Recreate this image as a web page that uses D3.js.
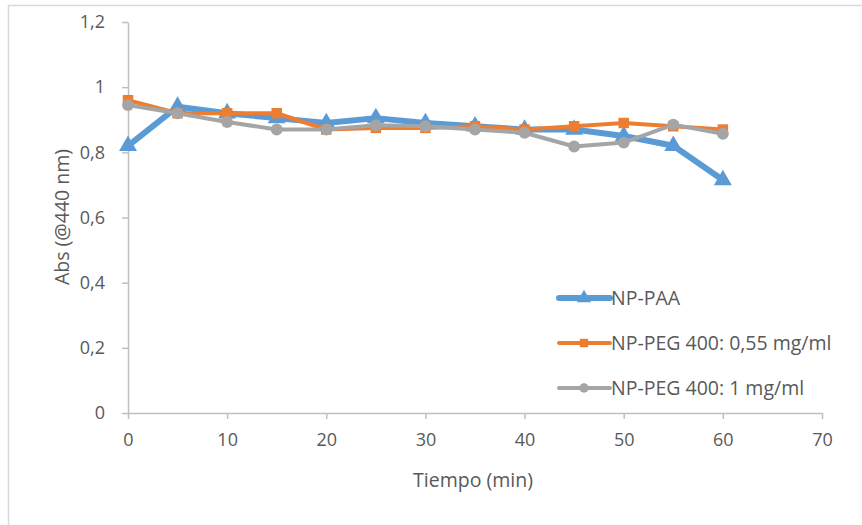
<!DOCTYPE html>
<html><head><meta charset="utf-8">
<script src="https://cdn.jsdelivr.net/npm/d3@7"></script>
<style>
body{margin:0;background:#fff;}
text{font-family:"Open Sans",sans-serif;fill:#595959;}
</style></head>
<body><svg id="c" width="862" height="525"></svg>
<script>
const times = [0,5,10,15,20,25,30,35,40,45,50,55,60];
const seriesNames = ["NP-PAA","NP-PEG 400: 0,55 mg/ml","NP-PEG 400: 1 mg/ml"];
const paa = [0.82,0.94,0.92,0.905,0.89,0.905,0.89,0.88,0.87,0.87,0.85,0.82,0.715];
const peg055 = [0.96,0.92,0.92,0.92,0.87,0.875,0.875,0.88,0.87,0.88,0.89,0.88,0.87];
const peg1 = [0.945,0.92,0.893,0.87,0.87,0.883,0.88,0.87,0.86,0.818,0.83,0.885,0.857];
const xTicks = [0,10,20,30,40,50,60,70];
const yTicks = [0,0.2,0.4,0.6,0.8,1,1.2];
const colors = ["#5B9BD5","#ED7D31","#A5A5A5"];
const markers = [d3.symbolTriangle, d3.symbolSquare, d3.symbolCircle];

const svg = d3.select("#c");
svg.append("rect").attr("x",8.5).attr("y",5.5).attr("width",900).attr("height",600)
  .attr("fill","#fff").attr("stroke","#D9D9D9").attr("stroke-width",1.5);

const x = d3.scaleLinear().domain([0,70]).range([128,822]);
const y = d3.scaleLinear().domain([0,1.2]).range([413,22]);
const fmt = v => d3.format("~g")(+v.toFixed(1)).replace(".",",");

const xa = svg.append("g").attr("transform","translate(0,413)")
  .call(d3.axisBottom(x).tickValues(xTicks).tickSize(6).tickSizeOuter(0).tickPadding(14).tickFormat(d3.format("d")));
const ya = svg.append("g").attr("transform","translate(128,0)")
  .call(d3.axisLeft(y).tickValues(yTicks).tickSize(6).tickSizeOuter(0).tickPadding(17).tickFormat(fmt));
[xa,ya].forEach(a=>{
  a.selectAll("path,line").attr("stroke","#BFBFBF").attr("stroke-width",1.5);
  a.selectAll("text").attr("font-size",18).style("fill","#595959")
   .style("font-family",'"Open Sans",sans-serif');
});

svg.append("text").attr("x",473).attr("y",487).attr("text-anchor","middle")
  .attr("font-size",19.5).text("Tiempo (min)");
svg.append("text").attr("transform","translate(69,217) rotate(-90)").attr("text-anchor","middle")
  .attr("font-size",19.5).text("Abs (@440 nm)");

const data = [paa,peg055,peg1];
const widths = [6,4,4];
const sizes = [140,110,110];
const line = d3.line().x((d,i)=>x(times[i])).y(d=>y(d));
data.forEach((s,k)=>{
  svg.append("path").datum(s).attr("d",line).attr("fill","none")
    .attr("stroke",colors[k]).attr("stroke-width",widths[k]).attr("stroke-linejoin","round");
  svg.append("g").selectAll("path").data(s).join("path")
    .attr("transform",(d,i)=>`translate(${x(times[i])},${y(d)})`)
    .attr("d",d3.symbol().type(markers[k]).size(sizes[k]))
    .attr("fill",colors[k]);
});

const lg = svg.append("g");
seriesNames.forEach((n,k)=>{
  const yy = 298 + k*45;
  lg.append("line").attr("x1",559).attr("x2",610).attr("y1",yy).attr("y2",yy)
    .attr("stroke",colors[k]).attr("stroke-width",widths[k]).attr("stroke-linecap","round");
  lg.append("path").attr("transform",`translate(584,${yy})`)
    .attr("d",d3.symbol().type(markers[k]).size(sizes[k]*0.65)).attr("fill",colors[k]);
  lg.append("text").attr("x",611).attr("y",yy+7).attr("font-size",19.5).text(n);
});
</script></body></html>
